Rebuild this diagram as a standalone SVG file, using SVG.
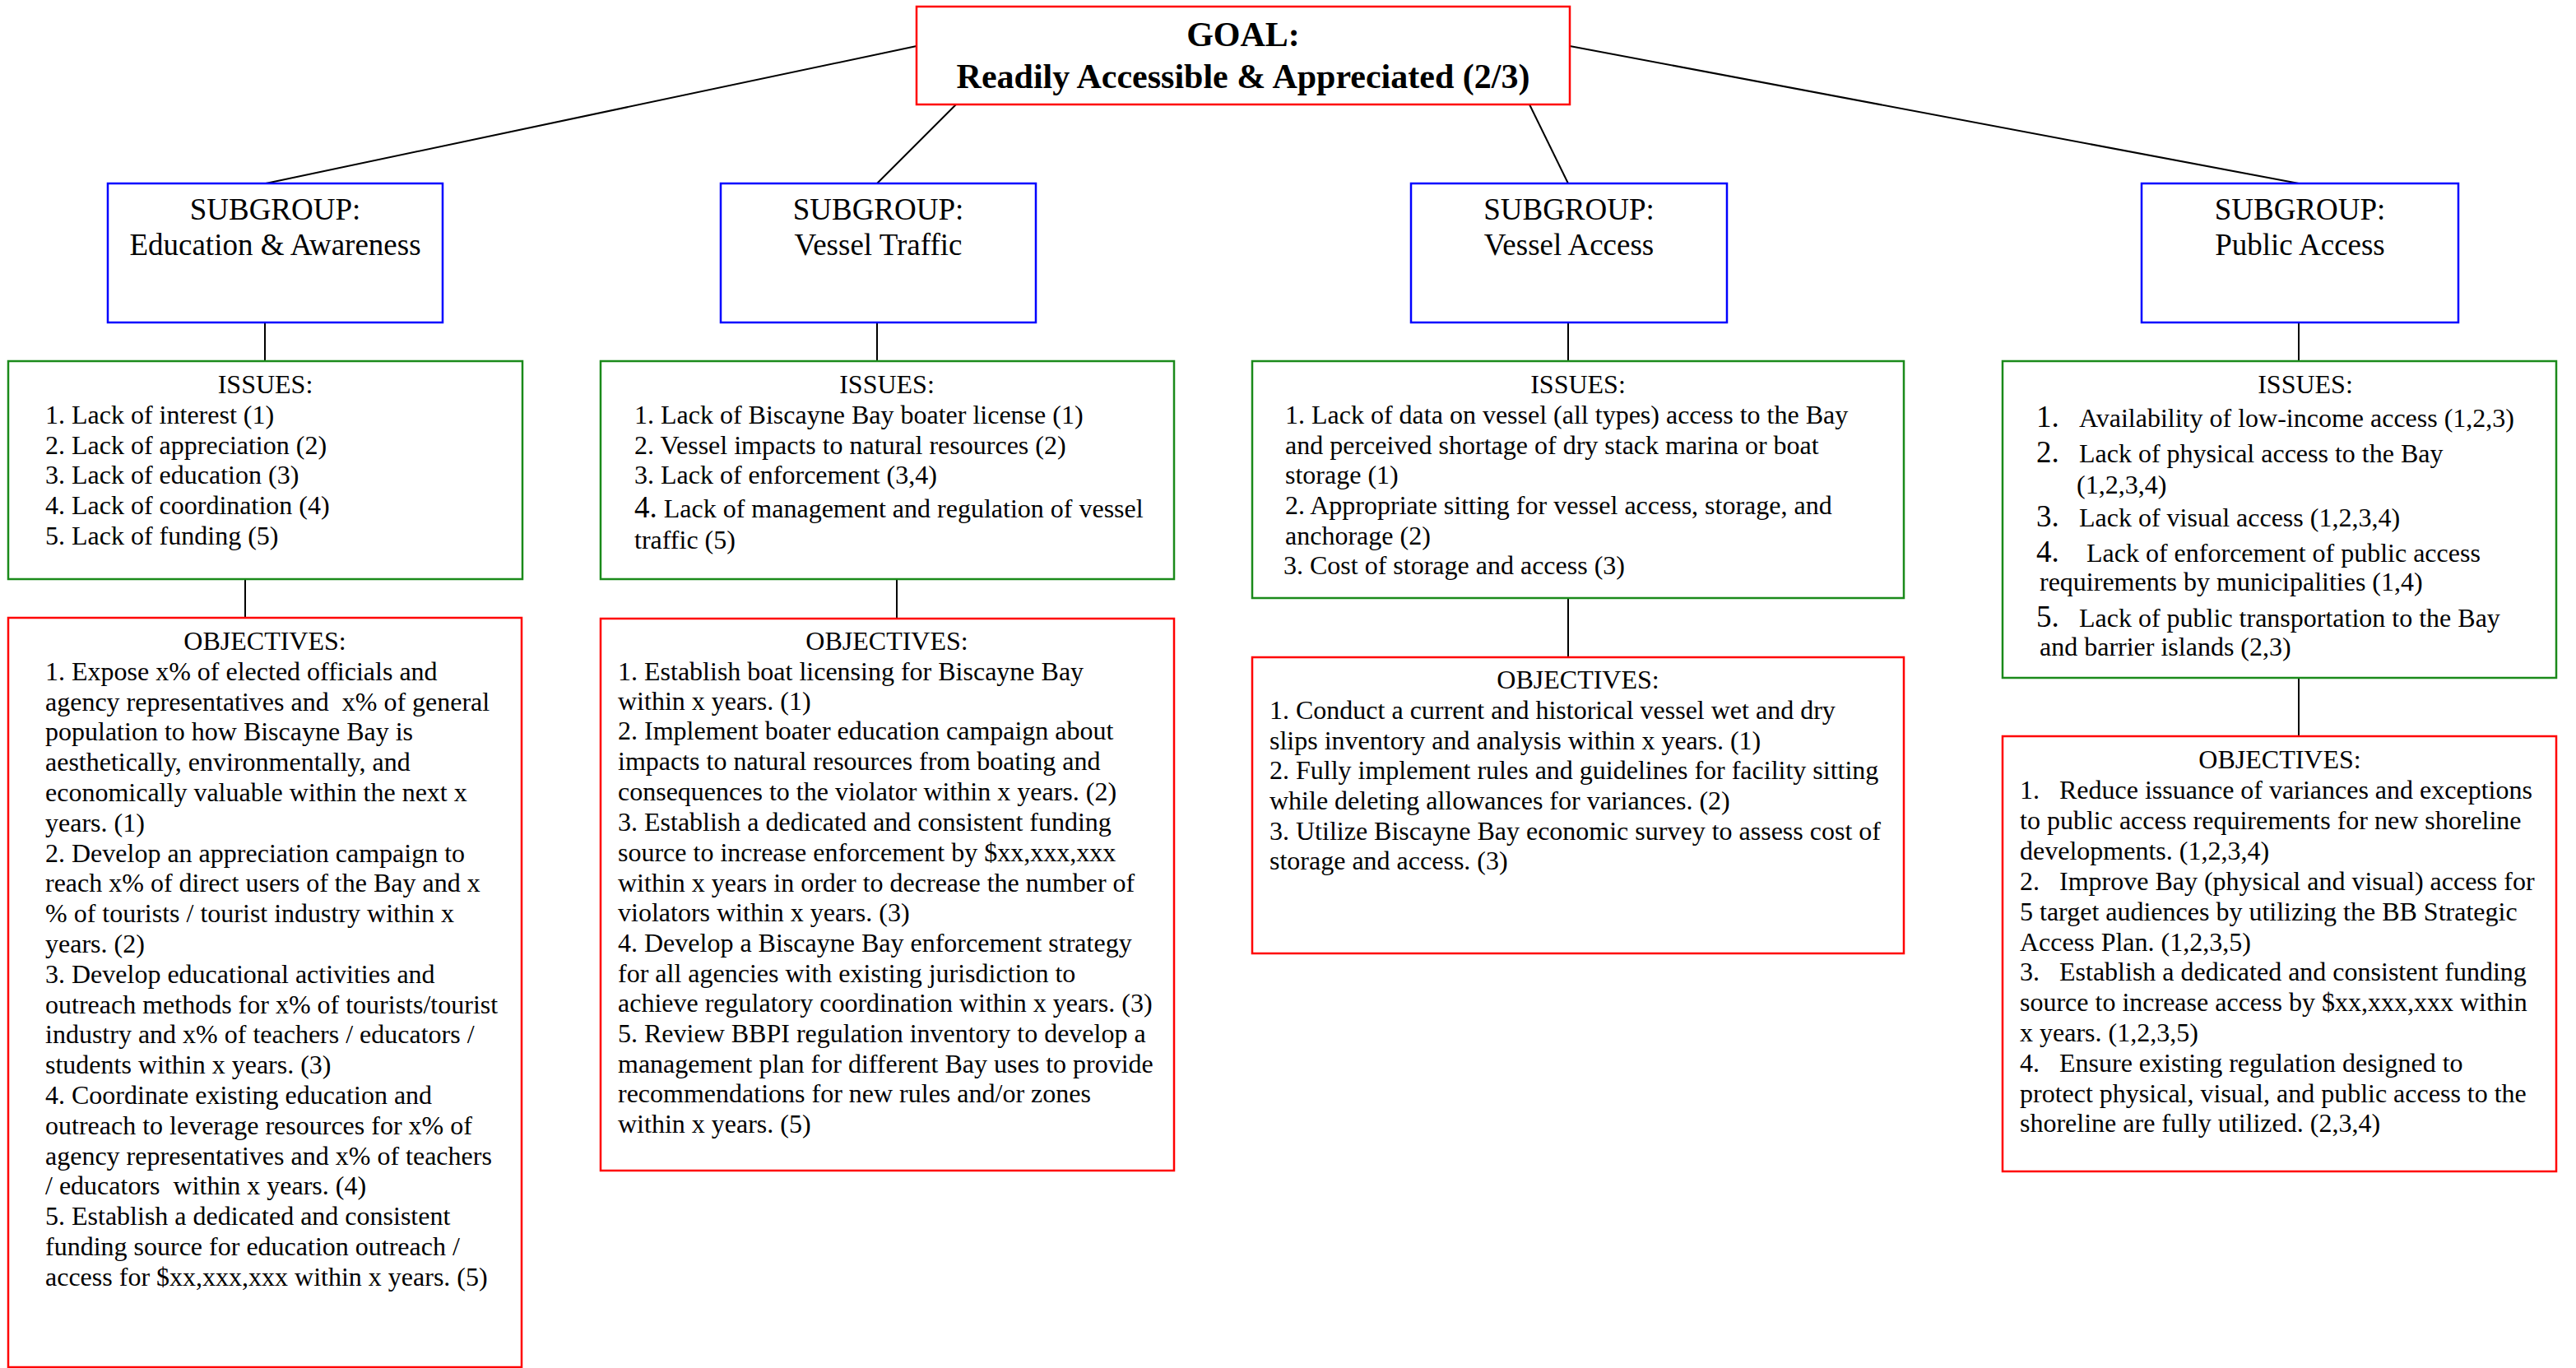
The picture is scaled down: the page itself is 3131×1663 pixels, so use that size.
<svg xmlns="http://www.w3.org/2000/svg" width="3131" height="1663" viewBox="0 0 3131 1663">
<style>
text{font-family:"Liberation Serif","Times New Roman",serif;font-size:32px;fill:#000}
.goal{font-size:42px;font-weight:bold}
.sub{font-size:37px}
.big{font-size:37px}
.box{fill:#fff;stroke-width:2.5}
.red{stroke:#ff0000}
.blue{stroke:#0000ff}
.green{stroke:#1a8a1a}
.conn line{stroke:#000;stroke-width:2}
</style>
<rect x="0" y="0" width="3131" height="1663" fill="#fff"/>
<g class="conn">
<line x1="1114" y1="56" x2="323" y2="223"/>
<line x1="1162" y1="127" x2="1066" y2="223"/>
<line x1="1859" y1="127" x2="1906" y2="223"/>
<line x1="1908" y1="56" x2="2794" y2="223"/>
<line x1="322" y1="392" x2="322" y2="439"/>
<line x1="298" y1="704" x2="298" y2="751"/>
<line x1="1066" y1="392" x2="1066" y2="439"/>
<line x1="1090" y1="704" x2="1090" y2="752"/>
<line x1="1906" y1="392" x2="1906" y2="439"/>
<line x1="1906" y1="727" x2="1906" y2="799"/>
<line x1="2794" y1="392" x2="2794" y2="439"/>
<line x1="2794" y1="824" x2="2794" y2="895"/>
</g>
<g id="goal">
<rect class="box red" x="1114" y="8" width="794" height="119"/>
<text class="goal" x="1511" y="56" text-anchor="middle">GOAL:</text>
<text class="goal" x="1511" y="107" text-anchor="middle">Readily Accessible &amp; Appreciated (2/3)</text>
</g>
<g id="sub-education">
<rect class="box blue" x="131" y="223" width="407" height="169"/>
<text class="sub" x="334.5" y="267" text-anchor="middle">SUBGROUP:</text>
<text class="sub" x="334.5" y="310" text-anchor="middle">Education &amp; Awareness</text>
</g>
<g id="sub-vessel-traffic">
<rect class="box blue" x="876" y="223" width="383" height="169"/>
<text class="sub" x="1067.5" y="267" text-anchor="middle">SUBGROUP:</text>
<text class="sub" x="1067.5" y="310" text-anchor="middle">Vessel Traffic</text>
</g>
<g id="sub-vessel-access">
<rect class="box blue" x="1715" y="223" width="384" height="169"/>
<text class="sub" x="1907" y="267" text-anchor="middle">SUBGROUP:</text>
<text class="sub" x="1907" y="310" text-anchor="middle">Vessel Access</text>
</g>
<g id="sub-public-access">
<rect class="box blue" x="2603" y="223" width="385" height="169"/>
<text class="sub" x="2795.5" y="267" text-anchor="middle">SUBGROUP:</text>
<text class="sub" x="2795.5" y="310" text-anchor="middle">Public Access</text>
</g>
<g id="issues-education">
<rect class="box green" x="10" y="439" width="625" height="265"/>
<text x="322.5" y="478" text-anchor="middle">ISSUES:</text>
<text x="55" y="515">1. Lack of interest (1)</text>
<text x="55" y="552">2. Lack of appreciation (2)</text>
<text x="55" y="588">3. Lack of education (3)</text>
<text x="55" y="625">4. Lack of coordination (4)</text>
<text x="55" y="662">5. Lack of funding (5)</text>
</g>
<g id="issues-vessel-traffic">
<rect class="box green" x="730" y="439" width="697" height="265"/>
<text x="1078" y="478" text-anchor="middle">ISSUES:</text>
<text x="771" y="515">1. Lack of Biscayne Bay boater license (1)</text>
<text x="771" y="552">2. Vessel impacts to natural resources (2)</text>
<text x="771" y="588">3. Lack of enforcement (3,4)</text>
<text x="771" y="629"><tspan class="big">4.</tspan> Lack of management and regulation of vessel</text>
<text x="771" y="667">traffic (5)</text>
</g>
<g id="issues-vessel-access">
<rect class="box green" x="1522" y="439" width="792" height="288"/>
<text x="1918" y="478" text-anchor="middle">ISSUES:</text>
<text x="1562" y="515">1. Lack of data on vessel (all types) access to the Bay</text>
<text x="1562" y="552">and perceived shortage of dry stack marina or boat</text>
<text x="1562" y="588">storage (1)</text>
<text x="1562" y="625">2. Appropriate sitting for vessel access, storage, and</text>
<text x="1562" y="662">anchorage (2)</text>
<text x="1560" y="698">3. Cost of storage and access (3)</text>
</g>
<g id="issues-public-access">
<rect class="box green" x="2434" y="439" width="673" height="385"/>
<text x="2802" y="478" text-anchor="middle">ISSUES:</text>
<text class="big" x="2475" y="519">1.</text><text x="2527" y="519">Availability of low-income access (1,2,3)</text>
<text class="big" x="2475" y="562">2.</text><text x="2527" y="562">Lack of physical access to the Bay</text>
<text x="2524" y="600">(1,2,3,4)</text>
<text class="big" x="2475" y="640">3.</text><text x="2527" y="640">Lack of visual access (1,2,3,4)</text>
<text class="big" x="2475" y="683">4.</text><text x="2536" y="683">Lack of enforcement of public access</text>
<text x="2479" y="718">requirements by municipalities (1,4)</text>
<text class="big" x="2475" y="762">5.</text><text x="2527" y="762">Lack of public transportation to the Bay</text>
<text x="2479" y="797">and barrier islands (2,3)</text>
</g>
<g id="objectives-education">
<rect class="box red" x="10" y="751" width="624" height="911"/>
<text x="322" y="790" text-anchor="middle">OBJECTIVES:</text>
<text x="55" y="827" xml:space="preserve">1. Expose x% of elected officials and</text>
<text x="55" y="864" xml:space="preserve">agency representatives and  x% of general</text>
<text x="55" y="900" xml:space="preserve">population to how Biscayne Bay is</text>
<text x="55" y="937" xml:space="preserve">aesthetically, environmentally, and</text>
<text x="55" y="974" xml:space="preserve">economically valuable within the next x</text>
<text x="55" y="1011" xml:space="preserve">years. (1)</text>
<text x="55" y="1048" xml:space="preserve">2. Develop an appreciation campaign to</text>
<text x="55" y="1084" xml:space="preserve">reach x% of direct users of the Bay and x</text>
<text x="55" y="1121" xml:space="preserve">% of tourists / tourist industry within x</text>
<text x="55" y="1158" xml:space="preserve">years. (2)</text>
<text x="55" y="1195" xml:space="preserve">3. Develop educational activities and</text>
<text x="55" y="1232" xml:space="preserve">outreach methods for x% of tourists/tourist</text>
<text x="55" y="1268" xml:space="preserve">industry and x% of teachers / educators /</text>
<text x="55" y="1305" xml:space="preserve">students within x years. (3)</text>
<text x="55" y="1342" xml:space="preserve">4. Coordinate existing education and</text>
<text x="55" y="1379" xml:space="preserve">outreach to leverage resources for x% of</text>
<text x="55" y="1416" xml:space="preserve">agency representatives and x% of teachers</text>
<text x="55" y="1452" xml:space="preserve">/ educators  within x years. (4)</text>
<text x="55" y="1489" xml:space="preserve">5. Establish a dedicated and consistent</text>
<text x="55" y="1526" xml:space="preserve">funding source for education outreach /</text>
<text x="55" y="1563" xml:space="preserve">access for $xx,xxx,xxx within x years. (5)</text>
</g>
<g id="objectives-vessel-traffic">
<rect class="box red" x="730" y="752" width="697" height="671"/>
<text x="1078" y="790" text-anchor="middle">OBJECTIVES:</text>
<text x="751" y="827">1. Establish boat licensing for Biscayne Bay</text>
<text x="751" y="863">within x years. (1)</text>
<text x="751" y="899">2. Implement boater education campaign about</text>
<text x="751" y="936">impacts to natural resources from boating and</text>
<text x="751" y="973">consequences to the violator within x years. (2)</text>
<text x="751" y="1010">3. Establish a dedicated and consistent funding</text>
<text x="751" y="1047">source to increase enforcement by $xx,xxx,xxx</text>
<text x="751" y="1084">within x years in order to decrease the number of</text>
<text x="751" y="1120">violators within x years. (3)</text>
<text x="751" y="1157">4. Develop a Biscayne Bay enforcement strategy</text>
<text x="751" y="1194">for all agencies with existing jurisdiction to</text>
<text x="751" y="1230">achieve regulatory coordination within x years. (3)</text>
<text x="751" y="1267">5. Review BBPI regulation inventory to develop a</text>
<text x="751" y="1304">management plan for different Bay uses to provide</text>
<text x="751" y="1340">recommendations for new rules and/or zones</text>
<text x="751" y="1377">within x years. (5)</text>
</g>
<g id="objectives-vessel-access">
<rect class="box red" x="1522" y="799" width="792" height="360"/>
<text x="1918" y="837" text-anchor="middle">OBJECTIVES:</text>
<text x="1543" y="874">1. Conduct a current and historical vessel wet and dry</text>
<text x="1543" y="911">slips inventory and analysis within x years. (1)</text>
<text x="1543" y="947">2. Fully implement rules and guidelines for facility sitting</text>
<text x="1543" y="984">while deleting allowances for variances. (2)</text>
<text x="1543" y="1021">3. Utilize Biscayne Bay economic survey to assess cost of</text>
<text x="1543" y="1057">storage and access. (3)</text>
</g>
<g id="objectives-public-access">
<rect class="box red" x="2434" y="895" width="673" height="529"/>
<text x="2771" y="934" text-anchor="middle">OBJECTIVES:</text>
<text x="2455" y="971">1.</text><text x="2503" y="971">Reduce issuance of variances and exceptions</text>
<text x="2455" y="1008">to public access requirements for new shoreline</text>
<text x="2455" y="1045">developments. (1,2,3,4)</text>
<text x="2455" y="1082">2.</text><text x="2503" y="1082">Improve Bay (physical and visual) access for</text>
<text x="2455" y="1119">5 target audiences by utilizing the BB Strategic</text>
<text x="2455" y="1156">Access Plan. (1,2,3,5)</text>
<text x="2455" y="1192">3.</text><text x="2503" y="1192">Establish a dedicated and consistent funding</text>
<text x="2455" y="1229">source to increase access by $xx,xxx,xxx within</text>
<text x="2455" y="1266">x years. (1,2,3,5)</text>
<text x="2455" y="1303">4.</text><text x="2503" y="1303">Ensure existing regulation designed to</text>
<text x="2455" y="1340">protect physical, visual, and public access to the</text>
<text x="2455" y="1376">shoreline are fully utilized. (2,3,4)</text>
</g>
</svg>
